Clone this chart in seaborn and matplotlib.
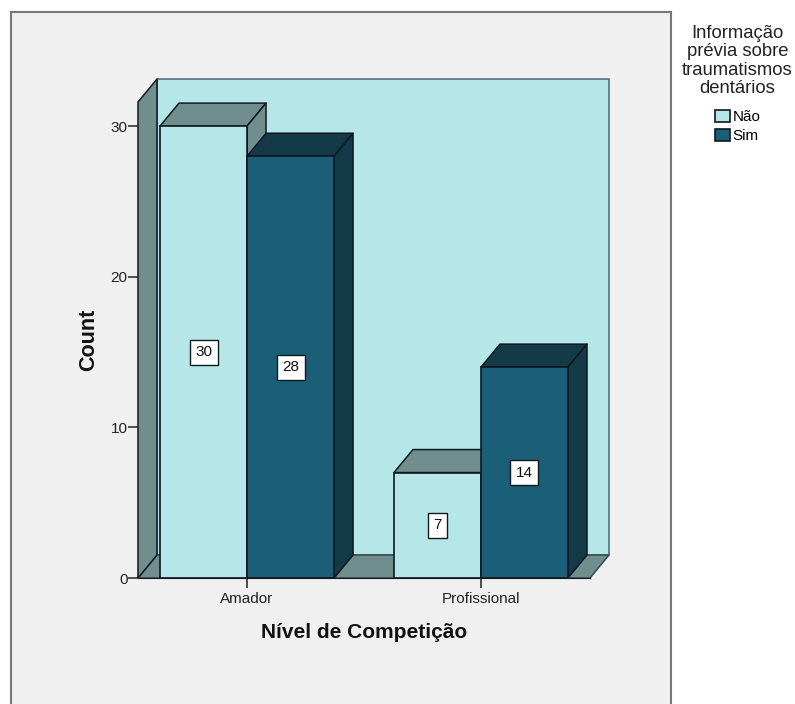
import matplotlib
matplotlib.use("Agg")
import matplotlib.pyplot as plt
from matplotlib.patches import Polygon, Rectangle
import pandas as pd
import seaborn as sns

levels = ["Amador", "Amador", "Profissional", "Profissional"]
answers = ["Não", "Sim", "Não", "Sim"]
counts = [30, 28, 7, 14]

level_name = "Nível de Competição"
answer_name = "Informação\nprévia sobre\ntraumatismos\ndentários"

LIGHT = "#B5E7E8"
DARK = "#1B5E78"
LIGHT_SHADE = "#718E8F"
DARK_SHADE = "#123A47"
PANEL = "#F0F0F0"
EDGE = "#101820"
WALL_EDGE = "#4A6672"

W, H = 795, 704
FONT = "Liberation Sans"
plt.rcParams["font.family"] = FONT

df = pd.DataFrame({level_name: levels, answer_name: answers, "Count": counts})

fig = plt.figure(figsize=(W / 100, H / 100), dpi=100, facecolor="white")
fig.add_artist(Rectangle((11 / W, -0.02), 660 / W, 1 - 12 / H + 0.02, zorder=-1,
                         transform=fig.transFigure, fc=PANEL, ec="#777777", lw=1.5))

ax = fig.add_axes([138 / W, 1 - 578 / H, 452 / W, 476 / H])
ax.patch.set_visible(False)
sns.barplot(data=df, x=level_name, y="Count", hue=answer_name,
            hue_order=["Não", "Sim"], palette=[LIGHT, DARK], saturation=1,
            width=0.744, gap=0, edgecolor=EDGE, linewidth=1.2, ax=ax)

xmin, xmax = -0.466, 1.466
ymax = 31.6
ax.set_xlim(xmin, xmax)
ax.set_ylim(0, ymax)
ax.set_yticks([0, 10, 20, 30])

# Oblique offset of the depth direction, in data units
dx, dy = 0.0812, 1.526


def face(points, color, z, edge=EDGE):
    ax.add_patch(Polygon(points, closed=True, fc=color, ec=edge, lw=1.1,
                         zorder=z, clip_on=False, joinstyle="round"))


# Room: back wall, floor and left wall
face([(xmin + dx, dy), (xmax + dx, dy), (xmax + dx, ymax + dy), (xmin + dx, ymax + dy)],
     LIGHT, 1, WALL_EDGE)
face([(xmin, 0), (xmax, 0), (xmax + dx, dy), (xmin + dx, dy)], LIGHT_SHADE, 1.1, "#34484F")
face([(xmin, 0), (xmin + dx, dy), (xmin + dx, ymax + dy), (xmin, ymax)], LIGHT_SHADE, 1.2)

# Extrude each bar into a box, painting left to right
shades = [LIGHT_SHADE, DARK_SHADE]
z = 2
for group in range(2):
    for container, shade in zip(ax.containers, shades):
        bar = container.patches[group]
        x0, x1 = bar.get_x(), bar.get_x() + bar.get_width()
        top = bar.get_height()
        face([(x0, top), (x1, top), (x1 + dx, top + dy), (x0 + dx, top + dy)], shade, z)
        face([(x1, 0), (x1 + dx, dy), (x1 + dx, top + dy), (x1, top)], shade, z + 0.1)
        bar.set_zorder(z + 0.2)
        z += 1

for container in ax.containers:
    for text in ax.bar_label(container, label_type="center", fontsize=11, color="#111111",
                             padding=0,
                             bbox=dict(boxstyle="square,pad=0.36", fc="white", ec=EDGE, lw=1)):
        text.set_zorder(20)

for side in ("left", "right", "top"):
    ax.spines[side].set_visible(False)
ax.spines["bottom"].set_color(EDGE)
ax.spines["bottom"].set_zorder(15)
ax.tick_params(axis="both", length=7.5, width=1.1, color="#222222",
               labelsize=11, labelcolor="#222222", pad=0)
ax.tick_params(axis="x", pad=2.8)
ax.set_xlabel(level_name, fontsize=15, fontweight="bold", labelpad=12, color="#111111")
ax.set_ylabel("Count", fontsize=15.5, fontweight="bold", labelpad=8, color="#111111")

handles, labels = ax.get_legend_handles_labels()
ax.get_legend().remove()
legend = fig.legend(handles, labels, title=answer_name, frameon=False,
                    loc="upper center", bbox_to_anchor=(737.5 / W, 1 - 25 / H),
                    fontsize=11, title_fontsize=13.3, handlelength=1.0, handleheight=0.85,
                    handletextpad=0.15, labelspacing=0.33, borderpad=0, borderaxespad=0)
legend.get_title().set_linespacing(1.1)
legend.get_title().set_multialignment("center")
legend.get_title().set_color("#222222")
legend._legend_box.sep = 9.2

fig.savefig("out.png", dpi=100, facecolor="white")
